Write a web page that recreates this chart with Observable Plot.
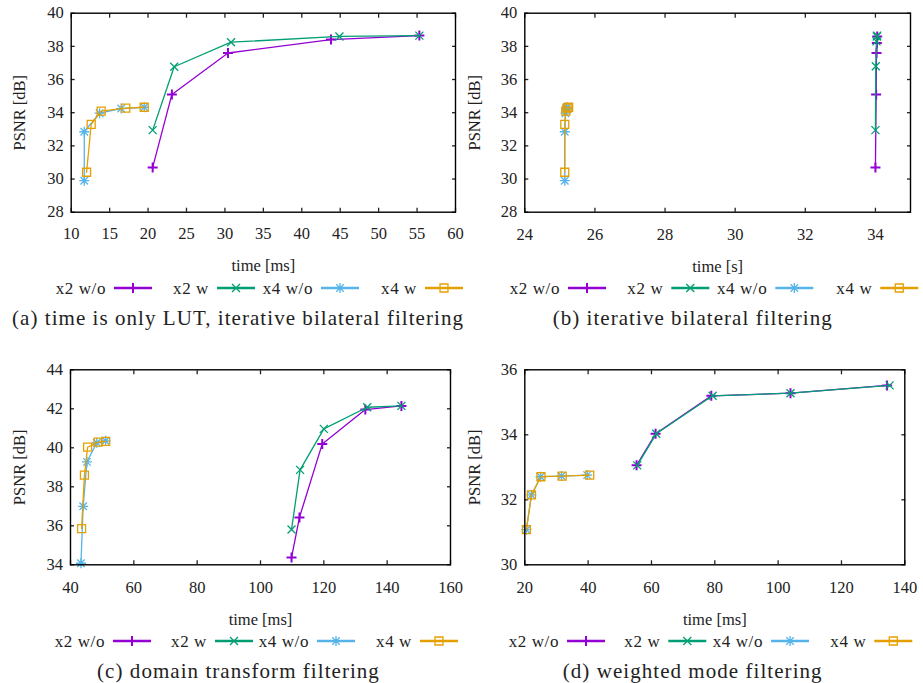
<!DOCTYPE html>
<html><head><meta charset="utf-8">
<script src="https://cdn.jsdelivr.net/npm/d3@7"></script>
<script src="https://cdn.jsdelivr.net/npm/@observablehq/plot@0.6"></script>
<style>
body{margin:0;background:#fff;}
#fig{position:relative;width:923px;height:683px;overflow:hidden;font-family:"Liberation Serif",serif;color:#222;background:#fff;}
.panel{position:absolute;font-family:"Liberation Serif",serif !important;}
.panel text{font-family:"Liberation Serif",serif;}
.cap{position:absolute;font-size:21px;letter-spacing:1.05px;white-space:nowrap;transform:translate(-50%,-50%);line-height:1;}
#legend{position:absolute;left:0;top:0;}
</style></head><body><div id="fig"></div>
<script>
const seriesNames = ["x2 w/o", "x2 w", "x4 w/o", "x4 w"];
const seriesColors = ["#9400d3", "#009e73", "#56b4e9", "#e69f00"];

// (a) time is only LUT, iterative bilateral filtering
const aX2woT = [20.6, 23.1, 30.4, 43.8, 55.3];
const aX2woP = [30.7, 35.1, 37.6, 38.41, 38.65];
const aX2wT = [20.6, 23.4, 30.8, 44.9, 55.3];
const aX2wP = [32.95, 36.77, 38.25, 38.6, 38.65];
const aX4woT = [11.7, 11.7, 13.7, 16.5, 19.5];
const aX4woP = [29.9, 32.85, 33.97, 34.25, 34.33];
const aX4wT = [12.0, 12.6, 13.9, 17.1, 19.5];
const aX4wP = [30.41, 33.29, 34.09, 34.27, 34.33];
const aXTicks = [10, 15, 20, 25, 30, 35, 40, 45, 50, 55, 60];
const aYTicks = [28, 30, 32, 34, 36, 38, 40];

// (b) iterative bilateral filtering
const bX2woT = [34.0, 34.02, 34.03, 34.04, 34.05];
const bX2woP = [30.7, 35.1, 37.6, 38.2, 38.6];
const bX2wT = [34.0, 34.01, 34.03, 34.04, 34.05];
const bX2wP = [32.95, 36.8, 38.3, 38.6, 38.65];
const bX4woT = [25.14, 25.14, 25.16, 25.18, 25.2];
const bX4woP = [29.9, 32.85, 33.97, 34.25, 34.33];
const bX4wT = [25.14, 25.14, 25.17, 25.21, 25.25];
const bX4wP = [30.41, 33.29, 34.09, 34.27, 34.33];
const bXTicks = [24, 26, 28, 30, 32, 34];
const bYTicks = [28, 30, 32, 34, 36, 38, 40];

// (c) domain transform filtering
const cX2woT = [109.8, 112.3, 119.5, 133.1, 144.5];
const cX2woP = [34.37, 36.43, 40.2, 41.96, 42.15];
const cX2wT = [109.8, 112.5, 120.0, 133.7, 144.5];
const cX2wP = [35.81, 38.87, 40.97, 42.08, 42.15];
const cX4woT = [43.3, 44.0, 45.2, 48.3, 51.1];
const cX4woP = [34.08, 37.0, 39.28, 40.26, 40.36];
const cX4wT = [43.5, 44.4, 45.4, 48.7, 51.1];
const cX4wP = [35.86, 38.6, 40.03, 40.29, 40.33];
const cXTicks = [40, 60, 80, 100, 120, 140, 160];
const cYTicks = [34, 36, 38, 40, 42, 44];

// (d) weighted mode filtering
const dX2woT = [55.3, 61.3, 78.9, 103.9, 134.4];
const dX2woP = [33.06, 34.03, 35.2, 35.28, 35.52];
const dX2wT = [55.5, 61.5, 79.3, 103.9, 135.2];
const dX2wP = [33.06, 34.03, 35.2, 35.28, 35.52];
const dX4woT = [20.5, 22.1, 25.0, 31.6, 39.7];
const dX4woP = [31.08, 32.15, 32.71, 32.73, 32.76];
const dX4wT = [20.5, 22.1, 25.1, 31.8, 40.5];
const dX4wP = [31.08, 32.15, 32.71, 32.73, 32.76];
const dXTicks = [20, 40, 60, 80, 100, 120, 140];
const dYTicks = [30, 32, 34, 36];

const captions = [
  "(a) time is only LUT, iterative bilateral filtering",
  "(b) iterative bilateral filtering",
  "(c) domain transform filtering",
  "(d) weighted mode filtering"
];

const FONT = "Liberation Serif";

// gnuplot-like point symbols (size = r^2*pi)
const rad = (s) => Math.sqrt(s / Math.PI);
const symPlus = {draw(c, s) { const r = rad(s); c.moveTo(-r, 0); c.lineTo(r, 0); c.moveTo(0, -r); c.lineTo(0, r); }};
const symTimes = {draw(c, s) { const r = rad(s) * 0.8; c.moveTo(-r, -r); c.lineTo(r, r); c.moveTo(-r, r); c.lineTo(r, -r); }};
const symStar = {draw(c, s) { const r = rad(s); const q = r * 0.75; c.moveTo(-r, 0); c.lineTo(r, 0); c.moveTo(0, -r); c.lineTo(0, r); c.moveTo(-q, -q); c.lineTo(q, q); c.moveTo(-q, q); c.lineTo(q, -q); }};
const symSquare = {draw(c, s) { const r = rad(s) * 0.8; c.moveTo(-r, -r); c.lineTo(r, -r); c.lineTo(r, r); c.lineTo(-r, r); c.closePath(); }};
const symbols = [symPlus, symTimes, symStar, symSquare];
const symWidths = [2, 1.3, 1.3, 1.3];
const symR = [5, 5, 5, 5];

const zip = (T, P) => T.map((t, i) => ({t, p: P[i]}));

const panels = [
  {series: [zip(aX2woT, aX2woP), zip(aX2wT, aX2wP), zip(aX4woT, aX4woP), zip(aX4wT, aX4wP)],
   xDomain: [10, 60], yDomain: [28, 40], xTicks: aXTicks, yTicks: aYTicks, xLabel: "time [ms]",
   left: 0, top: 0, width: 461, height: 280, mL: 70.7, mR: 6, mT: 12.7, xPad: 19.2, xLO: 58.3, yLO: 57.7,
   legendY: 288, legendEnds: [106, 209, 313, 417], capX: 238, capY: 318},
  {series: [zip(bX2woT, bX2woP), zip(bX2wT, bX2wP), zip(bX4woT, bX4woP), zip(bX4wT, bX4wP)],
   xDomain: [24, 35], yDomain: [28, 40], xTicks: bXTicks, yTicks: bYTicks, xLabel: "time [s]",
   left: 454, top: 0, width: 469, height: 280, mL: 70.3, mR: 13, mT: 12.7, xPad: 20.2, xLO: 60, yLO: 56.3,
   legendY: 288, legendEnds: [560, 663.3, 767.3, 872.3], capX: 692.7, capY: 318},
  {series: [zip(cX2woT, cX2woP), zip(cX2wT, cX2wP), zip(cX4woT, cX4woP), zip(cX4wT, cX4wP)],
   xDomain: [40, 160], yDomain: [34, 44], xTicks: cXTicks, yTicks: cYTicks, xLabel: "time [ms]",
   left: 0, top: 357, width: 461, height: 280, mL: 70, mR: 11, mT: 12.3, xPad: 20.3, xLO: 59.7, yLO: 57,
   legendY: 641, legendEnds: [105, 207, 309, 412], capX: 238.5, capY: 671},
  {series: [zip(dX2woT, dX2woP), zip(dX2wT, dX2wP), zip(dX4woT, dX4woP), zip(dX4wT, dX4wP)],
   xDomain: [20, 140], yDomain: [30, 36], xTicks: dXTicks, yTicks: dYTicks, xLabel: "time [ms]",
   left: 454, top: 357, width: 469, height: 280, mL: 70.3, mR: 18.7, mT: 12.3, xPad: 20.3, xLO: 60, yLO: 56.3,
   legendY: 641, legendEnds: [559, 660.3, 763, 866.3], capX: 692.7, capY: 671}
];

const fig = document.getElementById("fig");
const frameBottoms = [211.7, 211.7, 564.3, 564.3];
const fmt = (d) => String(d);

panels.forEach((cfg, pi) => {
  const mB = cfg.top + cfg.height - frameBottoms[pi];
  const marks = [
    Plot.axisX({anchor: "bottom", ticks: cfg.xTicks, tickSize: -4, tickPadding: cfg.xPad, strokeWidth: 1.3,
      tickFormat: fmt, fontFamily: FONT, fontSize: 16.5, fill: "#222",
      label: cfg.xLabel, labelAnchor: "center", labelOffset: cfg.xLO, labelArrow: "none"}),
    Plot.axisX({anchor: "top", ticks: cfg.xTicks, tickSize: -4, strokeWidth: 1.3, tickFormat: () => "", label: null}),
    Plot.axisY({anchor: "left", ticks: cfg.yTicks, tickSize: -4, tickPadding: 11.5, strokeWidth: 1.3,
      tickFormat: fmt, fontFamily: FONT, fontSize: 16.5, fill: "#222",
      label: "PSNR [dB]", labelAnchor: "center", labelOffset: cfg.yLO, labelArrow: "none"}),
    Plot.axisY({anchor: "right", ticks: cfg.yTicks, tickSize: -4, strokeWidth: 1.3, tickFormat: () => "", label: null})
  ];
  cfg.series.forEach((data, si) => {
    marks.push(Plot.line(data, {x: "t", y: "p", stroke: seriesColors[si], strokeWidth: 1.3}));
    marks.push(Plot.dot(data, {x: "t", y: "p", symbol: symbols[si], r: symR[si], fill: "none",
      stroke: seriesColors[si], strokeWidth: symWidths[si]}));
  });
  marks.push(Plot.frame({stroke: "#000", strokeWidth: 1.4}));
  const svg = Plot.plot({
    width: cfg.width, height: cfg.height,
    marginLeft: cfg.mL, marginRight: cfg.mR, marginTop: cfg.mT, marginBottom: mB,
    x: {domain: cfg.xDomain}, y: {domain: cfg.yDomain},
    style: `font-family: ${FONT}, serif; font-size: 16.5px; color: #222; background: transparent; overflow: visible;`,
    marks
  });
  svg.classList.add("panel");
  svg.style.left = cfg.left + "px";
  svg.style.top = cfg.top + "px";
  fig.appendChild(svg);

  const cap = document.createElement("div");
  cap.className = "cap";
  cap.textContent = captions[pi];
  cap.style.left = cfg.capX + "px";
  cap.style.top = cfg.capY + "px";
  fig.appendChild(cap);
});

// Legends (gnuplot-style key: label, then line sample with point)
const lg = d3.select(fig).append("svg").attr("id", "legend").attr("width", 923).attr("height", 683);
panels.forEach((cfg) => {
  cfg.legendEnds.forEach((xe, si) => {
    const y = cfg.legendY;
    lg.append("text").attr("x", xe).attr("y", y).attr("dy", "0.33em").attr("text-anchor", "end")
      .attr("font-family", FONT).attr("font-size", 17).attr("letter-spacing", "0.6px")
      .attr("fill", "#222").text(seriesNames[si]);
    const x0 = xe + 8, x1 = x0 + 38;
    lg.append("line").attr("x1", x0).attr("x2", x1).attr("y1", y).attr("y2", y)
      .attr("stroke", seriesColors[si]).attr("stroke-width", 2.5);
    const p = d3.path();
    symbols[si].draw(p, symR[si] * symR[si] * Math.PI);
    lg.append("path").attr("d", p.toString()).attr("transform", `translate(${(x0 + x1) / 2},${y})`)
      .attr("fill", "none").attr("stroke", seriesColors[si]).attr("stroke-width", symWidths[si]);
  });
});
</script>
</body></html>
